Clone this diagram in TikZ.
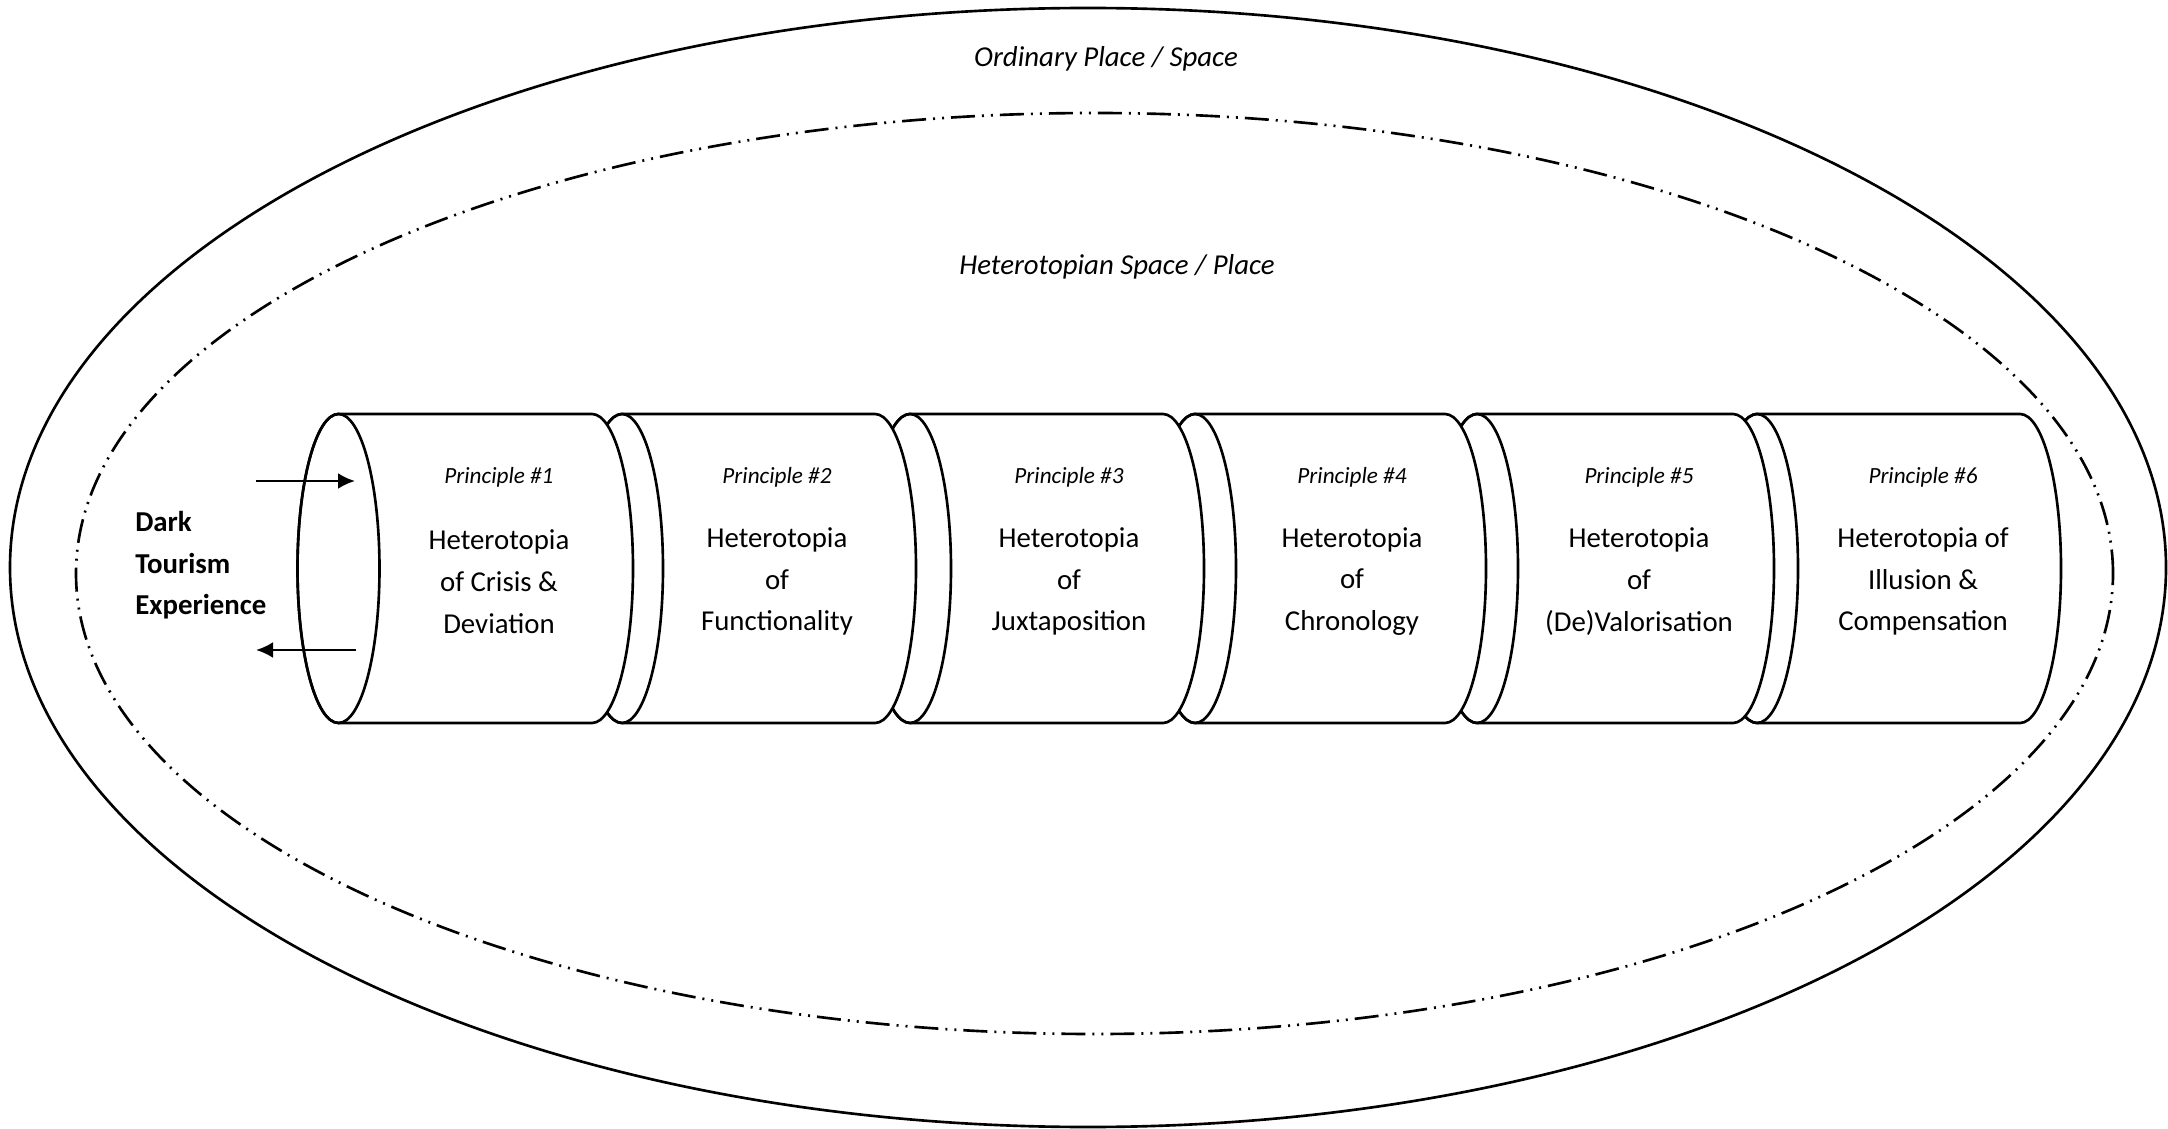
\documentclass[tikz,border=0pt]{standalone}
\usepackage{fontspec}
\setmainfont{Carlito}
\usetikzlibrary{arrows.meta}

\begin{document}
\begin{tikzpicture}[
  line width=0.75pt,
  can/.style={draw,fill=white},
  tag/.style={font=\fontsize{6.6}{8}\selectfont\itshape},
  body/.style={font=\fontsize{8.2}{11.9}\selectfont,align=center},
  zone/.style={font=\fontsize{8.2}{10}\selectfont\itshape},
  dashdotdot/.style={dash pattern=on 0.24cm off 0.07cm on 0.02cm off 0.07cm on 0.02cm off 0.07cm}
]
  \useasboundingbox (0,0) rectangle (21.68,11.28);
  % Ordinary place (outer ellipse)
  \draw (10.88,5.605) ellipse [x radius=10.78,y radius=5.595];
  \node[zone] (ordinary) at (11.06,10.69) {Ordinary Place / Space};
  % Heterotopian space (inner ellipse)
  \draw[dashdotdot] (10.945,5.545) ellipse [x radius=10.185,y radius=4.605];
  \node[zone] (hetero) at (11.17,8.61) {Heterotopian Space / Place};
  % Cylinders, right one first so the left one lies on top
  \foreach \l/\r in {17.57/20.20,14.77/17.33,11.95/14.45,9.10/11.63,6.22/8.75,3.385/5.92}{
    \draw[can] (\l,7.14) -- (\r,7.14) arc[start angle=90,end angle=-90,x radius=0.41,y radius=1.545]
      -- (\l,4.05) arc[start angle=270,end angle=90,x radius=0.41,y radius=1.545] -- cycle;
    \draw (\l,5.595) ellipse [x radius=0.41,y radius=1.545];
  }
  % Principles
  \foreach \i/\x/\txt in {1/4.99/{Heterotopia\\of Crisis \&\\Deviation},
                          2/7.77/{Heterotopia\\of\\Functionality},
                          3/10.69/{Heterotopia\\of\\Juxtaposition},
                          4/13.52/{Heterotopia\\of\\Chronology},
                          5/16.39/{Heterotopia\\of\\(De)Valorisation},
                          6/19.23/{Heterotopia of\\Illusion \&\\Compensation}}{
    \node[tag] (p\i) at (\x,6.51) {Principle \#\i};
    \node[body] (h\i) at (\x,5.465) {\txt};
  }
  % Visitor
  \node[font=\fontsize{8.2}{11.8}\selectfont\bfseries,align=left,anchor=west,inner sep=0]
    (dte) at (1.34,5.625) {Dark\\Tourism\\Experience};
  % In and out arrows
  \coordinate (inS) at (2.56,6.47);
  \coordinate (inE) at (3.55,6.47);
  \coordinate (outS) at (3.56,4.78);
  \coordinate (outE) at (2.56,4.78);
  \draw[-{Latex[length=0.17cm,width=0.16cm]}] (inS) -- (inE);
  \draw[-{Latex[length=0.17cm,width=0.16cm]}] (outS) -- (outE);
\end{tikzpicture}
\end{document}
